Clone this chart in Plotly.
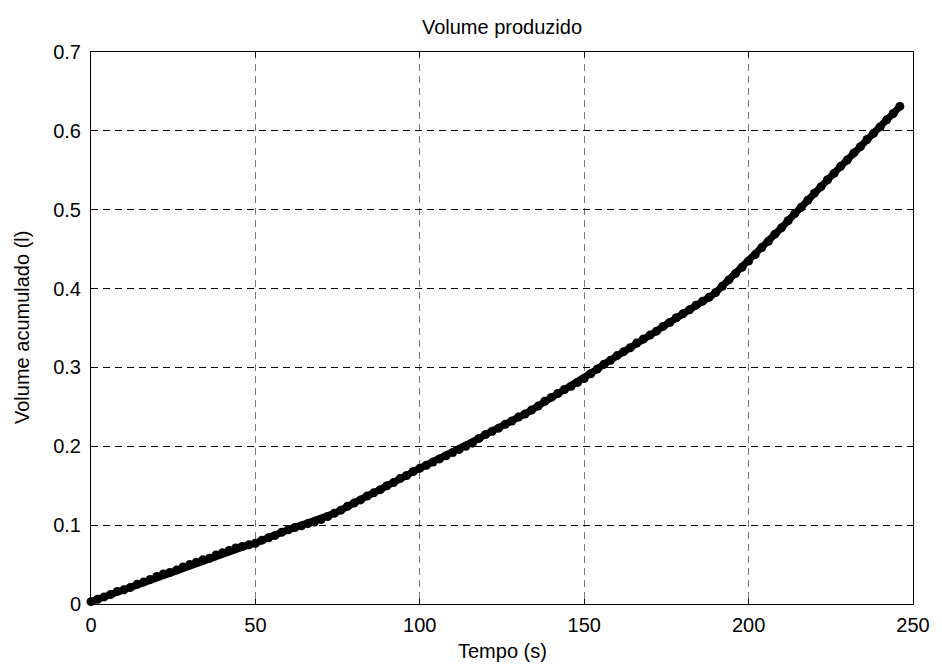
import plotly.graph_objects as go

tempo = list(range(0, 248, 2))
volume = [
    0.003, 0.006, 0.009, 0.012, 0.016, 0.018, 0.021, 0.025, 0.028, 0.031,
    0.035, 0.038, 0.040, 0.043, 0.047, 0.050, 0.053, 0.056, 0.058, 0.062,
    0.065, 0.068, 0.071, 0.073, 0.075, 0.077, 0.081, 0.084, 0.087, 0.091,
    0.094, 0.097, 0.099, 0.102, 0.104, 0.107, 0.111, 0.115, 0.119, 0.124,
    0.128, 0.132, 0.137, 0.141, 0.145, 0.150, 0.154, 0.159, 0.163, 0.168,
    0.172, 0.176, 0.180, 0.184, 0.188, 0.192, 0.196, 0.200, 0.204, 0.210,
    0.215, 0.219, 0.223, 0.228, 0.232, 0.237, 0.241, 0.246, 0.251, 0.257,
    0.262, 0.267, 0.272, 0.276, 0.281, 0.286, 0.292, 0.298, 0.304, 0.309,
    0.315, 0.320, 0.325, 0.331, 0.336, 0.341, 0.346, 0.352, 0.357, 0.363,
    0.368, 0.373, 0.379, 0.384, 0.389, 0.395, 0.403, 0.411, 0.419, 0.427,
    0.435, 0.443, 0.452, 0.460, 0.469, 0.477, 0.486, 0.495, 0.503, 0.512,
    0.521, 0.529, 0.538, 0.546, 0.555, 0.563, 0.572, 0.580, 0.589, 0.597,
    0.605, 0.614, 0.622, 0.631,
]

x_ticks = [0, 50, 100, 150, 200, 250]
y_ticks = [0, 0.1, 0.2, 0.3, 0.4, 0.5, 0.6, 0.7]
y_tick_labels = ["0", "0.1", "0.2", "0.3", "0.4", "0.5", "0.6", "0.7"]

FONT = "Liberation Sans, Arial, Helvetica, sans-serif"

fig = go.Figure()
fig.add_trace(go.Scatter(
    x=tempo, y=volume, mode="lines+markers",
    line=dict(color="black", width=7),
    marker=dict(color="black", size=9),
    showlegend=False, cliponaxis=False,
))

fig.update_layout(
    width=942, height=668,
    margin=dict(l=91, r=23, t=52, b=64),
    paper_bgcolor="white", plot_bgcolor="white",
    font=dict(family=FONT, size=20, color="black"),
    title=dict(text="Volume produzido", x=0.5, xref="paper", xanchor="center",
               y=1 - 27 / 668, yref="container", yanchor="middle",
               font=dict(family=FONT, size=20, color="black")),
    xaxis=dict(range=[0, 250], tickvals=x_ticks, ticks="inside", ticklen=5,
               tickcolor="black", showline=True, linecolor="black", linewidth=1,
               mirror="allticks", showgrid=True, gridcolor="#7a7a7a",
               griddash="7px,5px", gridwidth=1, zeroline=False,
               ticklabelstandoff=3, tickfont=dict(size=20)),
    yaxis=dict(range=[0, 0.7], tickvals=y_ticks, ticktext=y_tick_labels,
               ticks="inside", ticklen=5, tickcolor="black", showline=True,
               linecolor="black", linewidth=1, mirror="allticks", showgrid=True,
               gridcolor="black", griddash="7px,5px", gridwidth=1,
               zeroline=False, ticklabelstandoff=5, tickfont=dict(size=20)),
    annotations=[
        dict(text="Tempo (s)", xref="paper", yref="paper", x=0.5, y=0,
             xanchor="center", yanchor="middle", yshift=-47, showarrow=False,
             font=dict(size=20)),
        dict(text="Volume acumulado (l)", xref="paper", yref="paper", x=0,
             y=0.5, xanchor="center", yanchor="middle", xshift=-69,
             textangle=-90, showarrow=False, font=dict(size=20)),
    ],
)

fig.write_html("out.html")
